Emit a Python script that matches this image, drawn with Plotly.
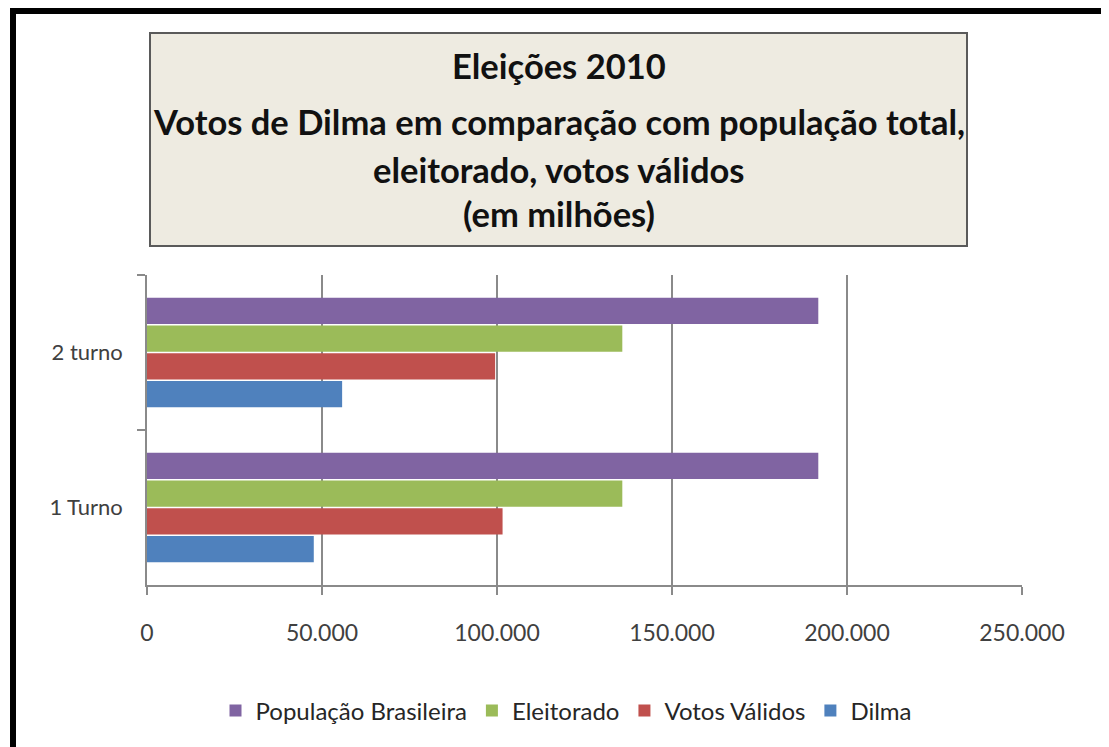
import plotly.graph_objects as go

W, H = 1109, 747

categorias = ["1 Turno", "2 turno"]
populacao = [191800, 191800]
eleitorado = [135804, 135804]
votos_validos = [101590, 99463]
dilma = [47651, 55752]

titulo = ["Eleições 2010",
          "Votos de Dilma em comparação com população total,",
          "eleitorado, votos válidos",
          "(em milhões)"]

x_ticks = [0, 50000, 100000, 150000, 200000, 250000]

FONT = "Lato"
OFF = 8  # page body margin offset


def px(x):
    return (x - OFF) / W


def py(y):
    return 1 - (y - OFF) / H


fig = go.Figure()
series = [
    ("Dilma", dilma, "#4F81BD"),
    ("Votos Válidos", votos_validos, "#C0504D"),
    ("Eleitorado", eleitorado, "#9BBB59"),
    ("População Brasileira", populacao, "#8064A2"),
]
for name, vals, col in series:
    fig.add_trace(go.Bar(y=categorias, x=vals, name=name, orientation="h",
                         marker=dict(color=col, line=dict(width=0))))

shapes = [
    dict(type="line", xref="paper", yref="paper",
         x0=px(1105), x1=px(1105), y0=py(16), y1=py(760),
         line=dict(color="#e6e6e6", width=1)),
    dict(type="rect", xref="paper", yref="paper",
         x0=px(13), x1=px(1140), y0=py(11), y1=py(780),
         line=dict(color="black", width=6), fillcolor="rgba(0,0,0,0)", layer="above"),
    dict(type="rect", xref="paper", yref="paper",
         x0=px(150), x1=px(967), y0=py(33), y1=py(246),
         line=dict(color="#5a5a5a", width=2), fillcolor="#EEEBE1", layer="below"),
]

title_y = [66, 121, 169, 213]
annotations = [dict(text=t, xref="paper", yref="paper", x=px(558.5), y=py(yy),
                    xanchor="center", yanchor="middle", showarrow=False,
                    font=dict(family=FONT, size=34.5, color="#111111", weight="bold"))
               for t, yy in zip(titulo, title_y)]

fig.update_layout(
    width=W, height=H,
    margin=dict(l=0, r=0, t=0, b=0, autoexpand=False),
    paper_bgcolor="white", plot_bgcolor="white",
    barmode="group", bargap=0.284, bargroupgap=0.06,
    separators=",.",
    shapes=shapes, annotations=annotations,
    font=dict(family=FONT, color="#404040"),
    legend=dict(orientation="h", traceorder="reversed",
                x=px(566), xanchor="center", y=py(711), yanchor="middle",
                font=dict(family=FONT, size=24, color="#262626"),
                itemwidth=30, bgcolor="rgba(0,0,0,0)"),
    xaxis=dict(domain=[px(147), px(1022)], range=[0, 250000],
               tickvals=x_ticks, tickformat=",.0f",
               showgrid=True, gridcolor="#8a8a8a", gridwidth=1.5,
               zeroline=False, showline=True, linecolor="#8a8a8a", linewidth=1.5,
               ticks="outside", ticklen=8, tickcolor="#8a8a8a", tickwidth=1.5,
               ticklabelstandoff=19, automargin=False,
               tickfont=dict(family=FONT, size=23, color="#404040"), fixedrange=True),
    yaxis=dict(domain=[py(585), py(275)], type="category",
               showline=True, linecolor="#8a8a8a", linewidth=1.5,
               ticks="outside", ticklen=8, tickcolor="#8a8a8a", tickwidth=1.5,
               tickson="boundaries", showgrid=False,
               ticklabelstandoff=18, automargin=False,
               tickfont=dict(family=FONT, size=22, color="#404040"), fixedrange=True),
)

fig.write_html("out.html")
